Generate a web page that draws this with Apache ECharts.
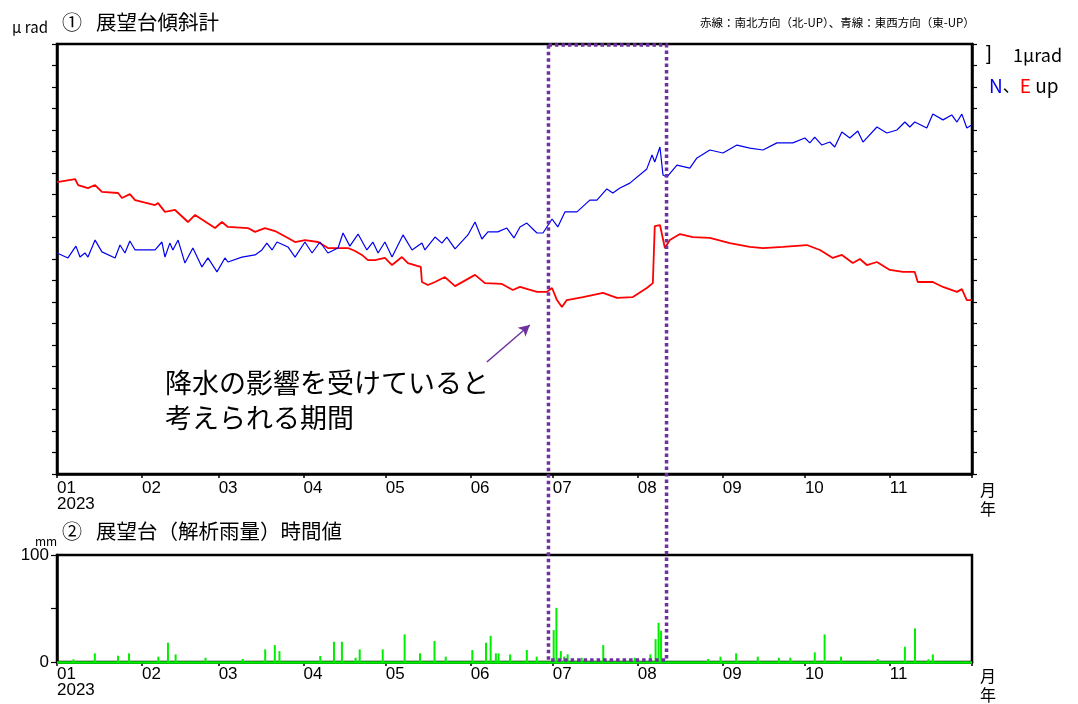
<!DOCTYPE html>
<html><head><meta charset="utf-8">
<script src="https://cdn.jsdelivr.net/npm/echarts@6/dist/echarts.min.js"></script>
<style>html,body{margin:0;padding:0;background:#fff}#c{width:1078px;height:704px}</style>
</head><body><div id="c"></div>
<script>
// x values: days since 2023-01-01
const monthStarts = [0,31,59,90,120,151,181,212,243,273,304,334];
const monthLabels = ['01\n2023','02','03','04','05','06','07','08','09','10','11','{e|月}\n{e|年}'];

// 赤線：南北方向 (μrad, relative)
const nsSeries = [[0,13.58],[6.6,13.72],[7.7,13.44],[11.3,13.30],[13.9,13.44],[16.4,13.12],[22.3,13.07],[23.7,12.84],[26.6,13.02],[28.5,12.74],[35.8,12.51],[36.9,12.60],[39.4,12.19],[43.1,12.28],[47.8,11.72],[50.4,12.05],[57.7,11.44],[60.2,11.72],[62.4,11.49],[69.7,11.44],[72.3,11.26],[75.9,11.44],[79.6,11.30],[84.3,10.98],[86.9,10.79],[90.5,10.88],[95.3,10.79],[98.9,10.51],[102.6,10.51],[106.2,10.51],[108.8,10.37],[111.3,10.19],[113.5,9.95],[116.1,9.95],[119.7,10.05],[122.3,9.72],[125.9,10.09],[128.1,9.81],[131.8,9.67],[132.8,9.63],[133.2,8.93],[135.4,8.79],[138.0,8.93],[141.6,9.16],[145.3,8.74],[152.6,9.26],[156.2,8.88],[162.4,8.84],[166.4,8.56],[169.0,8.70],[175.2,8.47],[178.8,8.47],[180.7,8.65],[182.5,8.09],[184.3,7.77],[186.1,8.09],[192.0,8.23],[199.3,8.42],[204.4,8.19],[210.2,8.23],[215.3,8.65],[217.5,8.88],[218.2,11.53],[220.1,11.58],[221.9,10.51],[223.7,10.88],[227.4,11.16],[232.1,11.02],[238.3,10.98],[245.6,10.74],[252.9,10.56],[257.7,10.51],[265.0,10.56],[273.7,10.65],[278.5,10.42],[283.2,10.05],[286.5,10.19],[290.5,9.81],[293.1,10.00],[295.6,9.72],[299.3,9.86],[304.0,9.49],[308.8,9.40],[313.1,9.40],[314.2,8.93],[319.7,8.93],[323.4,8.70],[328.5,8.47],[330.3,8.60],[332.1,8.09],[333.9,8.09]];

// 青線：東西方向 (μrad, relative)
const ewSeries = [[0,10.28],[4.0,10.05],[6.9,10.60],[8.4,10.09],[10.2,10.28],[11.3,10.09],[13.9,10.88],[16.4,10.33],[21.2,10.05],[23.0,10.65],[24.8,10.28],[26.6,10.84],[28.5,10.42],[35.8,10.42],[38.3,10.79],[39.4,10.09],[41.2,10.74],[42.3,10.42],[44.2,10.88],[46.7,9.81],[49.6,10.51],[52.9,9.63],[55.1,10.05],[58.4,9.40],[61.3,10.05],[62.4,9.86],[67.5,10.09],[72.3,10.19],[74.8,10.42],[76.6,10.74],[78.5,10.42],[80.3,10.79],[84.3,10.56],[86.9,10.09],[90.5,10.79],[93.1,10.28],[96.0,10.79],[98.9,10.28],[102.6,10.51],[104.4,11.21],[106.9,10.60],[109.9,11.16],[113.1,10.42],[115.3,10.79],[117.2,10.28],[119.7,10.79],[122.3,10.09],[126.3,11.12],[129.6,10.42],[133.2,10.74],[134.3,10.42],[138.0,11.02],[140.5,10.74],[142.3,11.02],[145.3,10.47],[150.0,11.12],[152.6,11.72],[155.1,10.93],[157.3,11.26],[160.9,11.26],[164.2,11.44],[166.8,10.98],[169.0,11.49],[171.5,11.67],[175.2,11.21],[177.4,11.21],[180.7,11.86],[182.8,11.49],[185.4,12.19],[189.8,12.19],[194.5,12.74],[197.1,12.74],[200.7,13.26],[202.9,13.07],[205.5,13.30],[209.1,13.53],[215.3,14.19],[217.2,14.84],[218.2,14.51],[220.1,15.21],[221.2,13.91],[222.6,13.81],[226.3,14.37],[231.0,14.23],[233.6,14.70],[238.3,15.07],[243.1,14.93],[248.2,15.30],[252.9,15.16],[257.7,15.07],[262.8,15.40],[268.6,15.40],[273.0,15.63],[274.8,15.40],[276.6,15.67],[279.2,15.30],[282.1,15.44],[283.9,15.21],[286.5,15.91],[289.4,15.63],[292.3,15.95],[294.2,15.44],[299.3,16.14],[302.9,15.86],[306.6,16.00],[309.5,16.37],[311.3,16.14],[313.1,16.37],[317.5,16.09],[319.7,16.74],[323.4,16.47],[326.6,16.70],[328.5,16.37],[330.3,16.74],[332.1,16.09],[333.9,16.23]];

// 解析雨量 時間値 (mm)
const rainSeries = [[6.0,2.5],[13.8,8.1],[22.3,5.9],[26.3,8.1],[37.0,5.0],[40.5,18.0],[43.3,7.1],[54.2,4.0],[67.8,2.8],[76.0,11.8],[79.5,15.8],[81.2,10.2],[96.1,5.6],[101.1,18.9],[104.0,18.9],[109.0,4.0],[110.5,11.8],[118.9,11.8],[126.9,25.8],[132.5,8.1],[137.8,19.6],[141.9,5.0],[151.6,11.2],[156.6,18.0],[158.3,24.5],[160.2,8.1],[161.2,8.1],[165.4,7.1],[171.5,11.2],[175.1,5.0],[181.3,29.8],[182.3,50.6],[183.9,10.2],[185.1,5.0],[186.4,7.1],[191.5,4.0],[199.4,15.8],[210.9,4.0],[216.6,7.1],[218.5,21.4],[219.6,36.6],[220.5,29.2],[237.7,2.8],[242.2,5.0],[247.9,8.1],[255.8,5.0],[263.5,4.0],[267.7,4.0],[276.6,9.0],[280.2,25.8],[286.2,5.0],[299.6,2.8],[309.5,14.3],[313.2,31.4],[318.1,2.5],[319.7,7.1]];

const periodStart = 179.4, periodEnd = 222.5;   // 降水の影響を受けていると考えられる期間
const arrowFrom = [156.9, 5.21], arrowTo = [172.6, 6.93];

const JP = '"Noto Sans CJK JP", sans-serif';
const NUM = '"Liberation Sans", Arial, sans-serif';

function xAxisDef(gridIndex, margin) {
  return {
    type: 'value', gridIndex, min: 0, max: 334,
    axisLine: { show: true, lineStyle: { color: '#000', width: 2.5 } },
    axisTick: { show: true, customValues: monthStarts, length: 4, inside: false, lineStyle: { color: '#000', width: 1.5 } },
    axisLabel: {
      show: true, customValues: monthStarts, align: 'left', margin,
      fontFamily: NUM, fontSize: 17, lineHeight: 16, color: '#000',
      rich: { e: { fontFamily: JP, fontSize: 16, lineHeight: 19, padding: [0, 0, 0, 8], color: '#000' } },
      formatter: v => monthLabels[monthStarts.indexOf(v)] || ''
    },
    splitLine: { show: false }
  };
}
function tiltY(position) {
  return {
    type: 'value', gridIndex: 0, min: 0, max: 20, interval: 1, position,
    axisLine: { show: true, lineStyle: { color: '#000', width: 2.5 } },
    axisTick: { show: true, length: 5, inside: false, lineStyle: { color: '#000', width: 1.2 } },
    axisLabel: { show: false }, splitLine: { show: false }
  };
}

const option = {
  animation: false,
  backgroundColor: '#fff',
  grid: [
    { left: 57, top: 44, width: 915, height: 430, show: true, borderColor: '#000', borderWidth: 2.5, backgroundColor: 'transparent' },
    { left: 57, top: 555, width: 915, height: 109, show: true, borderColor: '#000', borderWidth: 2.5, backgroundColor: 'transparent' }
  ],
  xAxis: [xAxisDef(0, 6), xAxisDef(1, 4)],
  yAxis: [
    tiltY('left'), tiltY('right'),
    {
      type: 'value', gridIndex: 1, min: 0, max: 100, interval: 50,
      axisLine: { show: true, lineStyle: { color: '#000', width: 2.5 } },
      axisTick: { show: true, length: 6, inside: false, lineStyle: { color: '#000', width: 1.2 } },
      axisLabel: { show: true, fontFamily: NUM, fontSize: 17, color: '#000', margin: 8, formatter: v => (v === 50 ? '' : String(v)) },
      splitLine: { show: false }
    }
  ],
  series: [
    {
      name: '南北方向', type: 'line', xAxisIndex: 0, yAxisIndex: 0, data: nsSeries,
      showSymbol: false, symbol: 'none', lineStyle: { color: '#ff0000', width: 1.8 }, z: 3,
      markLine: {
        silent: true, symbol: ['none', 'arrow'], symbolSize: [9, 11],
        lineStyle: { color: '#7030a0', width: 1.5, type: 'solid' }, label: { show: false },
        data: [[{ coord: arrowFrom }, { coord: arrowTo }]]
      }
    },
    {
      name: '東西方向', type: 'line', xAxisIndex: 0, yAxisIndex: 0, data: ewSeries,
      showSymbol: false, symbol: 'none', lineStyle: { color: '#0000ee', width: 1.2 }, z: 3
    },
    {
      name: '解析雨量', type: 'bar', xAxisIndex: 1, yAxisIndex: 2, data: rainSeries,
      barWidth: 2, itemStyle: { color: '#00ee00' },
      markLine: {
        silent: true, symbol: 'none', label: { show: false },
        lineStyle: { color: '#00ee00', width: 2.5, type: 'solid' },
        data: [{ yAxis: 0 }]
      }
    }
  ]
};

const chart = echarts.init(document.getElementById('c'), null, { renderer: 'canvas' });
chart.setOption(option);

const xL = chart.convertToPixel({ xAxisIndex: 0 }, periodStart);
const xR = chart.convertToPixel({ xAxisIndex: 0 }, periodEnd);
const yT = chart.convertToPixel({ yAxisIndex: 0 }, 20);
const yB = chart.convertToPixel({ yAxisIndex: 2 }, 0);

function txt(x, y, text, font, extra) {
  return { type: 'text', x, y, z: 10, style: Object.assign({ text, font, fill: '#000', align: 'left', verticalAlign: 'middle' }, extra || {}) };
}

chart.setOption({
  graphic: [
    txt(12, 27, 'μ rad', '15px ' + JP),
    txt(62, 22, '①', '20px ' + JP),
    txt(96, 22, '展望台傾斜計', '20.5px ' + JP),
    txt(700, 23, '赤線：南北方向（北-UP）、青線：東西方向（東-UP）', '11.5px ' + JP),
    txt(986, 54, ']', '20px ' + NUM),
    txt(1013, 55, '1μrad', '18px ' + JP),
    {
      type: 'text', x: 989, y: 86, z: 10,
      style: {
        text: '{n|N}{s|、}{e|E}{u| up}', verticalAlign: 'middle', align: 'left',
        rich: {
          n: { fill: '#0000ee', font: '19px ' + JP },
          s: { fill: '#000', font: '17px ' + JP },
          e: { fill: '#ff0000', font: '19px ' + JP },
          u: { fill: '#000', font: '19px ' + JP }
        }
      }
    },
    txt(35, 541, 'mm', '12px ' + JP),
    txt(62, 531, '②', '20px ' + JP),
    txt(96, 531, '展望台（解析雨量）時間値', '20.5px ' + JP),
    txt(165, 383, '降水の影響を受けていると', '27px ' + JP),
    txt(165, 418, '考えられる期間', '27px ' + JP),
    {
      type: 'rect', z: 20, silent: true,
      shape: { x: xL, y: yT + 1, width: xR - xL, height: yB - yT - 3 },
      style: { fill: 'none', stroke: '#7030a0', lineWidth: 3.5, lineDash: [3.5, 3] }
    }
  ]
});
</script>
</body></html>
